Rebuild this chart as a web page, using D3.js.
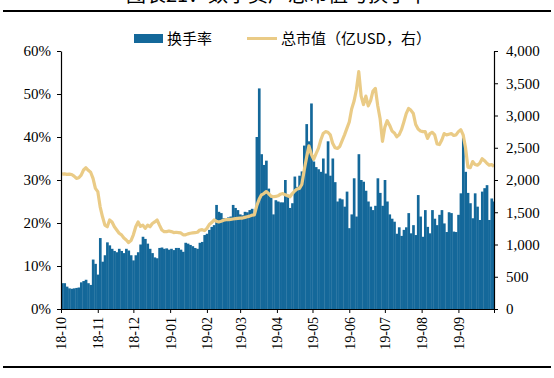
<!DOCTYPE html>
<html>
<head>
<meta charset="utf-8">
<script src="https://d3js.org/d3.v7.min.js"></script>
<style>
  body { margin: 0; background: #fff; }
  .legend { font-family: "Noto Sans CJK SC", sans-serif; font-size: 15px; fill: #000; }
</style>
</head>
<body>
<div id="chart"></div>
<script>
// turnover (%), one value per 2-day bin starting 2018-10-01
const turnoverPct = [
  6.0, 6.0, 5.2, 4.8, 4.7, 4.8, 4.9, 5.0, 6.2, 6.5, 6.8, 6.0, 5.6,
  11.5, 10.5, 8.0, 16.5, 11.0, 12.5, 15.5, 14.8, 14.0, 13.5, 13.2, 14.0, 13.5,
  13.0, 14.0, 13.6, 12.5, 11.3, 12.5, 13.2, 15.0, 16.8, 16.3, 15.2, 14.0, 13.0,
  12.0, 11.8, 14.2, 14.3, 14.0, 14.1, 13.8, 14.0, 13.7,
  14.2, 14.2, 13.8, 13.3, 15.4, 15.2, 14.9, 14.6, 14.2, 14.0, 15.4, 15.6,
  17.2, 17.5, 18.4, 19.1, 19.5, 24.2, 22.6, 22.3, 21.1, 21.0, 21.3, 21.5,
  24.2, 23.5, 23.0, 22.0, 21.8, 22.6, 22.5, 23.0, 23.3, 22.0,
  40, 51.3, 36, 33.5, 34.5, 28, 26, 22, 25.3, 25, 24.8, 24.8,
  30, 26, 23.5, 24.6, 30.8, 28.4, 31, 32, 38, 43, 39, 47.8, 34.3, 33, 32.5, 31.9,
  35, 31.5, 39, 31, 35, 29.5, 25, 25.7, 25.5, 23.8, 27.3, 18.8, 22, 30.4, 21.5,
  36, 30, 29.6, 27.5, 25, 23.8, 23, 24, 30.4, 27, 24, 30, 25, 22, 21,
  20.3, 17.5, 19, 17, 18.4, 19, 22.3, 17.6, 19.5, 17.2, 26.5, 21.5, 16.8, 23,
  19.1, 17.6, 23, 21, 19.5, 21.9, 23, 19.9, 17.9, 22.5, 22.3, 18, 17.9, 21.9,
  26.9, 40, 31.9, 27, 24.6, 21.1, 26.9, 23.8, 20.7, 27.3, 28.1, 28.8, 20.7, 25.7, 25
];

// total market cap (亿USD), same bins
const marketCap = [
  2090, 2095, 2088, 2092, 2085, 2060, 2025, 2035, 2075, 2155, 2190, 2150, 2120,
  2025, 1870, 1820, 1585, 1430, 1300, 1275, 1380, 1350, 1275, 1225, 1175, 1150,
  1100, 1070, 1030, 1060, 1150, 1275, 1350, 1280, 1300, 1250, 1300, 1275, 1325,
  1350, 1380, 1300, 1225, 1200, 1200, 1210, 1200, 1185,
  1190, 1185, 1180, 1150, 1150, 1165, 1175, 1180, 1185, 1190, 1225, 1230,
  1215, 1250, 1310, 1340, 1380, 1360, 1350, 1360, 1375, 1385, 1385, 1390,
  1395, 1400, 1405, 1410, 1410, 1420, 1430, 1440, 1455, 1460,
  1600, 1700, 1770, 1790, 1820, 1790, 1750, 1740, 1745, 1755, 1780, 1790,
  1770, 1760, 1740, 1790, 1830, 1860, 1870, 1930, 2150, 2350,
  2530, 2400, 2320, 2410, 2490, 2620, 2720, 2750, 2740, 2700,
  2570, 2500, 2490, 2520, 2610, 2700, 2800, 2900, 3100, 3220,
  3400, 3680, 3300, 3170, 3300, 3150, 3230, 3380, 3420, 3150,
  2950, 2600, 2820, 2920, 2850, 2760,
  2730, 2670, 2700, 2780, 2900, 3030, 3110, 3080, 3030, 2860,
  2790, 2760, 2750, 2750, 2645, 2720, 2740, 2700, 2560, 2550,
  2620, 2720, 2700, 2710, 2720, 2690, 2700, 2750, 2780, 2700,
  2500, 2200, 2190, 2285, 2240, 2230, 2260, 2330, 2300, 2260,
  2230, 2240, 2210
];

const leftTicks = [0, 10, 20, 30, 40, 50, 60];
const rightTicks = [0, 500, 1000, 1500, 2000, 2500, 3000, 3500, 4000];
const legendLabels = ["换手率", "总市值（亿USD，右）"];
const titleText = "图表21：数字资产总市值与换手率";

const W = 554, H = 378;
const margin = { top: 51, right: 60, bottom: 69, left: 61 };
const width = W - margin.left - margin.right,
      height = H - margin.top - margin.bottom;

const barColor = "#14689a", lineColor = "#eacb86";
const serif = "'Liberation Serif', 'Times New Roman', serif";

const start = new Date(2018, 9, 1), end = new Date(2019, 9, 1);
const data = turnoverPct.map((t, i) => ({
  d0: d3.timeDay.offset(start, 2 * i),
  d1: d3.timeDay.offset(start, 2 * i + 2),
  mid: d3.timeDay.offset(start, 2 * i + 1),
  t: t,
  cap: marketCap[i]
}));

const svg = d3.select("#chart").append("svg")
  .attr("width", W).attr("height", H);

// title (cut off at top, as in the source image) and rules
svg.append("text")
  .attr("x", 277).attr("y", 2)
  .attr("text-anchor", "middle")
  .style("font-family", "Noto Sans CJK SC, sans-serif")
  .style("font-size", "20px")
  .text(titleText);
svg.append("line").attr("x1", 3).attr("x2", 551).attr("y1", 11).attr("y2", 11)
  .attr("stroke", "#000").attr("stroke-width", 2.2);
svg.append("line").attr("x1", 3).attr("x2", 551).attr("y1", 367).attr("y2", 367)
  .attr("stroke", "#000").attr("stroke-width", 2.2);

const g = svg.append("g").attr("transform", `translate(${margin.left},${margin.top})`);

const x = d3.scaleTime().domain([start, end]).range([0, width]);
const yL = d3.scaleLinear().domain([0, 60]).range([height, 0]);
const yR = d3.scaleLinear().domain([0, 4000]).range([height, 0]);

// bars
g.selectAll(".bar").data(data).join("rect")
  .attr("class", "bar")
  .attr("x", d => x(d.d0))
  .attr("width", d => Math.min(x(d.d1), width) - x(d.d0) + 0.3)
  .attr("y", d => yL(d.t))
  .attr("height", d => height - yL(d.t))
  .attr("fill", barColor);

// market cap line
g.append("path").datum(data)
  .attr("fill", "none")
  .attr("stroke", lineColor)
  .attr("stroke-width", 3.2)
  .attr("stroke-linejoin", "round")
  .attr("d", d3.line().x(d => x(d.mid)).y(d => yR(d.cap)));

// axes
const axL = g.append("g")
  .call(d3.axisLeft(yL).tickValues(leftTicks).tickFormat(d => d + "%")
    .tickSize(4).tickSizeOuter(0).tickPadding(6));
const axR = g.append("g").attr("transform", `translate(${width},0)`)
  .call(d3.axisRight(yR).tickValues(rightTicks).tickFormat(d3.format(","))
    .tickSize(4).tickSizeOuter(0).tickPadding(8));
const months = d3.timeMonth.range(start, d3.timeDay.offset(end, 1));
const axB = g.append("g").attr("transform", `translate(0,${height})`)
  .call(d3.axisBottom(x).tickValues(months)
    .tickFormat((d, i) => i < months.length - 1 ? d3.timeFormat("%y-%m")(d) : "")
    .tickSize(4).tickSizeOuter(0));
axB.selectAll("text")
  .attr("transform", "rotate(-90)")
  .attr("text-anchor", "end")
  .attr("x", -8).attr("y", 0).attr("dy", "0.35em");

[axL, axR, axB].forEach(a => {
  a.attr("font-family", serif);
  a.selectAll("text").style("font-family", serif).attr("fill", "#000");
  a.select(".domain").attr("stroke", "#000").attr("stroke-width", 1.2);
  a.selectAll(".tick line").attr("stroke", "#000");
});
[axL, axR].forEach(a => a.selectAll("text").style("font-size", "15px"));
axB.selectAll("text").style("font-size", "14px");

// legend
const lg = svg.append("g");
lg.append("rect").attr("x", 134).attr("y", 34).attr("width", 29).attr("height", 9).attr("fill", barColor);
lg.append("text").attr("class", "legend").attr("x", 167).attr("y", 44).text(legendLabels[0]);
lg.append("line").attr("x1", 247).attr("x2", 277).attr("y1", 38.5).attr("y2", 38.5)
  .attr("stroke", lineColor).attr("stroke-width", 3);
lg.append("text").attr("class", "legend").attr("x", 281).attr("y", 44).text(legendLabels[1]);
</script>
</body>
</html>
